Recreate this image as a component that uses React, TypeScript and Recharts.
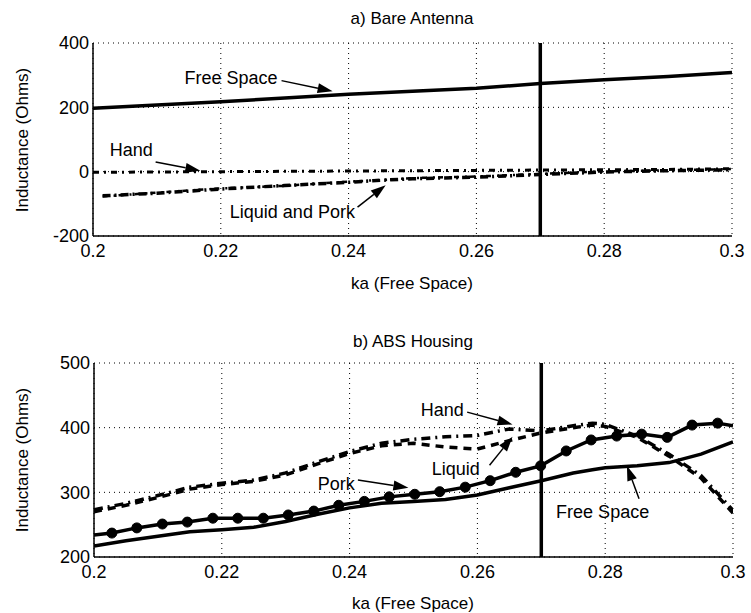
import React from 'react';
import { LineChart, Line, XAxis, YAxis, CartesianGrid, ReferenceLine, ReferenceDot } from 'recharts';

// ---------- data: a) Bare Antenna ----------
const topFreeX = [0.2, 0.21, 0.22, 0.23, 0.24, 0.25, 0.26, 0.27, 0.28, 0.29, 0.3];
const topFreeY = [197, 207, 217, 229, 241, 250, 259, 274, 286, 296, 308];
const topHandX = [0.2, 0.21, 0.22, 0.23, 0.24, 0.25, 0.26, 0.27, 0.28, 0.29, 0.3];
const topHandY = [-2, -1, 0, 1, 2, 3, 4, 5, 6, 7, 9];
const topLiquidX = [0.2015, 0.21, 0.22, 0.23, 0.24, 0.245, 0.25, 0.26, 0.27, 0.28, 0.29, 0.3];
const topLiquidY = [-75, -67, -54, -43, -33, -27, -22, -17, -9, -1, 3, 6];
const topPorkY = [-77, -65, -52, -44, -31, -26, -20, -15, -7, 1, 4, 8];

// ---------- data: b) ABS Housing ----------
const botX = [0.2, 0.205, 0.21, 0.215, 0.22, 0.225, 0.23, 0.235, 0.24, 0.245, 0.25, 0.255, 0.26, 0.265, 0.27, 0.275, 0.278, 0.28, 0.285, 0.29, 0.295, 0.3];
const botHandY = [273, 283, 295, 308, 314, 319, 330, 347, 363, 376, 382, 386, 388, 398, 395, 403, 407, 405, 387, 359, 326, 272];
const botLiquidY = [270, 280, 292, 305, 312, 317, 327, 344, 360, 372, 376, 370, 367, 380, 392, 400, 404, 402, 385, 356, 322, 268];
const botFreeY = [217, 225, 232, 239, 242, 246, 255, 266, 276, 283, 286, 289, 296, 307, 318, 330, 335, 338, 341, 346, 359, 378];
const porkX = [0.2, 0.2028, 0.2067, 0.2107, 0.2146, 0.2186, 0.2225, 0.2265, 0.2304, 0.2344, 0.2383, 0.2423, 0.2462, 0.2502, 0.2541, 0.2581, 0.262, 0.266, 0.2699, 0.2739, 0.2778, 0.2818, 0.2857, 0.2897, 0.2936, 0.2976, 0.3];
const porkY = [234, 237, 245, 251, 254, 260, 260, 260, 265, 271, 280, 286, 293, 297, 301, 308, 318, 331, 341, 364, 381, 387, 390, 385, 404, 407, 403];

const xTicks = [0.2, 0.22, 0.24, 0.26, 0.28, 0.3];
const topYTicks = [-200, 0, 200, 400];
const botYTicks = [200, 300, 400, 500];
const markerLine = 0.27;

const zip = (xs: number[], ys: number[]) => xs.map((x, i) => ({ x, y: ys[i] }));

const FONT = '"Liberation Sans", Arial, Helvetica, sans-serif';
const tickStyle = { fontSize: 18, fill: '#000', fontFamily: FONT };

const Arrow = (p: any) => {
  const { x1, y1, x2, y2 } = p;
  if ([x1, y1, x2, y2].some((v) => v == null || isNaN(v))) return <g />;
  const ang = Math.atan2(y2 - y1, x2 - x1);
  const L = 15, W = 5;
  const bx = x2 - L * Math.cos(ang), by = y2 - L * Math.sin(ang);
  const px = -Math.sin(ang) * W, py = Math.cos(ang) * W;
  return (
    <g>
      <line x1={x1} y1={y1} x2={bx} y2={by} stroke="#000" strokeWidth={1.5} />
      <polygon points={`${x2},${y2} ${bx + px},${by + py} ${bx - px},${by - py}`} fill="#000" />
    </g>
  );
};

const textShape = (label: string) => (p: any) => (
  <text x={p.cx} y={p.cy} textAnchor="middle" dominantBaseline="central" fontSize={18} fontFamily={FONT} fill="#000">{label}</text>
);

const fmt = (v: number) => String(Math.round(v * 100) / 100);

export default function App() {
  const common = { isAnimationActive: false, dot: false, type: 'linear' as const };
  return (
    <div style={{ position: 'absolute', left: 0, top: 0, width: 751, height: 613, background: '#fff', fontFamily: FONT }}>
      <div style={{ position: 'absolute', left: 0, top: 0 }}>
        <LineChart width={751} height={300} margin={{ top: 43, right: 19, bottom: 14, left: 43 }}>
          <CartesianGrid stroke="#000" strokeDasharray="1 4" strokeWidth={1} />
          <XAxis dataKey="x" type="number" domain={[0.2, 0.3]} ticks={xTicks} tickFormatter={fmt} height={50}
            allowDataOverflow tick={tickStyle} tickLine={false} tickSize={6} tickMargin={2} axisLine={{ stroke: '#000', strokeWidth: 1.5 }} />
          <XAxis xAxisId="t" orientation="top" type="number" domain={[0.2, 0.3]} height={0} tick={false} tickLine={false} axisLine={{ stroke: '#000', strokeWidth: 1.5 }} />
          <YAxis type="number" domain={[-200, 400]} ticks={topYTicks} width={50} allowDataOverflow
            tick={tickStyle} tickLine={false} tickSize={4} tickMargin={0} axisLine={{ stroke: '#000', strokeWidth: 1.5 }} />
          <YAxis yAxisId="r" orientation="right" type="number" domain={[-200, 400]} width={0} tick={false} tickLine={false} axisLine={{ stroke: '#000', strokeWidth: 1.5 }} />
          <Line data={zip(topFreeX, topFreeY)} dataKey="y" {...common} stroke="#000" strokeWidth={3.5} />
          <Line data={zip(topHandX, topHandY)} dataKey="y" {...common} stroke="#000" strokeWidth={3} strokeDasharray="6 5 2 5" />
          <Line data={zip(topLiquidX, topLiquidY)} dataKey="y" {...common} stroke="#000" strokeWidth={3.5} strokeDasharray="8 4 2 4" />
          <Line data={zip(topLiquidX, topPorkY)} dataKey="y" {...common} stroke="#000" strokeWidth={2.5} strokeDasharray="5 6 2 3" />
          <ReferenceLine x={markerLine} stroke="#000" strokeWidth={3.5} />
          <ReferenceLine segment={[{ x: 0.2295, y: 283 }, { x: 0.2375, y: 250 }]} shape={Arrow} />
          <ReferenceLine segment={[{ x: 0.2098, y: 30 }, { x: 0.2168, y: 3 }]} shape={Arrow} />
          <ReferenceLine segment={[{ x: 0.2414, y: -110 }, { x: 0.2458, y: -42 }]} shape={Arrow} />
          <ReferenceDot x={0.2216} y={291} r={0} shape={textShape('Free Space')} />
          <ReferenceDot x={0.206} y={66} r={0} shape={textShape('Hand')} />
          <ReferenceDot x={0.2312} y={-125} r={0} shape={textShape('Liquid and Pork')} />
        </LineChart>
      </div>
      <div style={{ position: 'absolute', left: 0, top: 300 }}>
        <LineChart width={751} height={313} margin={{ top: 63, right: 18, bottom: 6, left: 44 }}>
          <CartesianGrid stroke="#000" strokeDasharray="1 4" strokeWidth={1} />
          <XAxis dataKey="x" type="number" domain={[0.2, 0.3]} ticks={xTicks} tickFormatter={fmt} height={50}
            allowDataOverflow tick={tickStyle} tickLine={false} tickSize={6} tickMargin={2} axisLine={{ stroke: '#000', strokeWidth: 1.5 }} />
          <XAxis xAxisId="t" orientation="top" type="number" domain={[0.2, 0.3]} height={0} tick={false} tickLine={false} axisLine={{ stroke: '#000', strokeWidth: 1.5 }} />
          <YAxis type="number" domain={[200, 500]} ticks={botYTicks} width={50} allowDataOverflow
            tick={tickStyle} tickLine={false} tickSize={4} tickMargin={0} axisLine={{ stroke: '#000', strokeWidth: 1.5 }} />
          <YAxis yAxisId="r" orientation="right" type="number" domain={[200, 500]} width={0} tick={false} tickLine={false} axisLine={{ stroke: '#000', strokeWidth: 1.5 }} />
          <Line data={zip(botX, botFreeY)} dataKey="y" {...common} stroke="#000" strokeWidth={3.5} />
          <Line data={zip(botX, botHandY)} dataKey="y" {...common} stroke="#000" strokeWidth={3.5} strokeDasharray="9 5 2 5" />
          <Line data={zip(botX, botLiquidY)} dataKey="y" {...common} stroke="#000" strokeWidth={3.5} strokeDasharray="8 6" />
          <Line data={zip(porkX, porkY)} dataKey="y" isAnimationActive={false} type="linear" stroke="#000" strokeWidth={3.5}
            dot={(p: any) => (p.index > 0 && p.index < porkX.length - 1
              ? <circle key={`pd${p.index}`} cx={p.cx} cy={p.cy} r={5} fill="#000" stroke="#000" />
              : <g key={`pd${p.index}`} />)} />
          <ReferenceLine x={markerLine} stroke="#000" strokeWidth={3.5} />
          <ReferenceLine segment={[{ x: 0.2584, y: 424 }, { x: 0.2655, y: 405 }]} shape={Arrow} />
          <ReferenceLine segment={[{ x: 0.2619, y: 342 }, { x: 0.2655, y: 386 }]} shape={Arrow} />
          <ReferenceLine segment={[{ x: 0.2413, y: 319 }, { x: 0.2492, y: 307 }]} shape={Arrow} />
          <ReferenceLine segment={[{ x: 0.2853, y: 290 }, { x: 0.2834, y: 341 }]} shape={Arrow} />
          <ReferenceDot x={0.2545} y={428} r={0} shape={textShape('Hand')} />
          <ReferenceDot x={0.2566} y={336} r={0} shape={textShape('Liquid')} />
          <ReferenceDot x={0.2379} y={313} r={0} shape={textShape('Pork')} />
          <ReferenceDot x={0.2796} y={269} r={0} shape={textShape('Free Space')} />
        </LineChart>
      </div>
      <svg width={751} height={613} style={{ position: 'absolute', left: 0, top: 0, pointerEvents: 'none' }}>
        <g fontFamily={FONT} fill="#000">
          <text x={412} y={24} textAnchor="middle" fontSize={17}>a) Bare Antenna</text>
          <text x={412} y={289} textAnchor="middle" fontSize={17}>ka (Free Space)</text>
          <text x={413} y={347} textAnchor="middle" fontSize={17}>b) ABS Housing</text>
          <text x={413} y={609} textAnchor="middle" fontSize={17}>ka (Free Space)</text>
          <text transform="translate(28,140) rotate(-90)" textAnchor="middle" fontSize={17}>Inductance (Ohms)</text>
          <text transform="translate(28,460) rotate(-90)" textAnchor="middle" fontSize={17}>Inductance (Ohms)</text>
        </g>
      </svg>
    </div>
  );
}
